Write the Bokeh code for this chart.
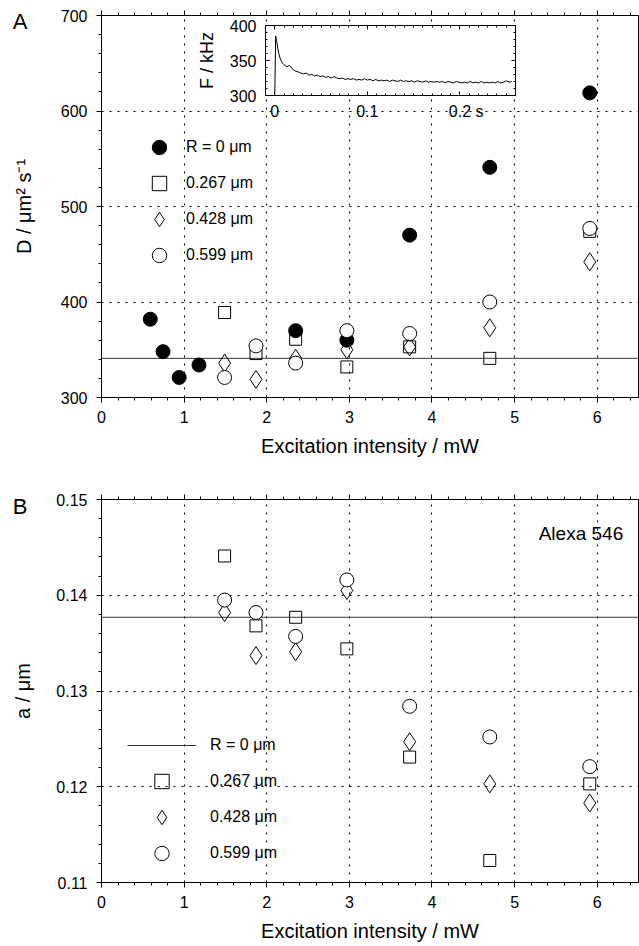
import numpy as np
from bokeh.plotting import figure
from bokeh.models import (Range1d, LinearAxis, SingleIntervalTicker, FixedTicker, Span, Label,
                          Legend, LegendItem, Grid, PrintfTickFormatter)
from bokeh.layouts import column
from bokeh.embed import file_html
from bokeh.resources import INLINE

# ---------------- data ----------------
power_R0 = [0.59, 0.745, 0.94, 1.18, 2.35, 2.97, 3.73, 4.70, 5.91]
D_R0 = [382, 348, 321, 334, 370, 360, 470, 541, 619]
power = [1.49, 1.87, 2.35, 2.97, 3.73, 4.70, 5.91]
D_R267 = [389, 346, 361, 332, 353, 341, 474]
D_R428 = [336, 319, 341, 350, 353, 373, 442]
D_R599 = [321, 354, 336, 370, 367, 400, 477]
D_mean = 341

a_R267 = [0.1441, 0.1368, 0.1377, 0.1344, 0.1231, 0.1123, 0.1203]
a_R428 = [0.1382, 0.1337, 0.1341, 0.1405, 0.1247, 0.1203, 0.1183]
a_R599 = [0.1395, 0.1382, 0.1357, 0.1416, 0.1284, 0.1252, 0.1221]
a_R0 = 0.1377

# inset: fluorescence count rate trace
t_trace = [0.000, 0.001, 0.002, 0.004, 0.006, 0.008,
           0.010, 0.013, 0.016, 0.019, 0.022, 0.025, 0.028, 0.031, 0.034, 0.037,
           0.040, 0.043, 0.046, 0.049, 0.052, 0.055, 0.058, 0.061, 0.064, 0.067,
           0.070, 0.073, 0.076, 0.079, 0.082, 0.085, 0.088, 0.091, 0.094, 0.097,
           0.100, 0.103, 0.106, 0.109, 0.112, 0.115, 0.118, 0.121, 0.124, 0.127,
           0.130, 0.133, 0.136, 0.139, 0.142, 0.145, 0.148, 0.151, 0.154, 0.157,
           0.160, 0.163, 0.166, 0.169, 0.172, 0.175, 0.178, 0.181, 0.184, 0.187,
           0.190, 0.193, 0.196, 0.199, 0.202, 0.205, 0.208, 0.211, 0.214, 0.217,
           0.220, 0.223, 0.226, 0.229, 0.232, 0.235, 0.238, 0.241, 0.244, 0.247,
           0.250, 0.253, 0.256]
F_trace = [300, 385, 378, 362, 352, 347,
           344, 341, 343, 338, 335, 334, 332, 331, 332, 329,
           330, 328, 329, 327, 328, 326, 327, 325, 327, 325,
           324, 325, 323, 324, 323, 324, 322, 323, 322, 324,
           322, 323, 321, 323, 321, 322, 321, 322, 320, 322,
           321, 320, 322, 320, 321, 320, 321, 319, 321, 320,
           319, 321, 319, 320, 319, 320, 319, 320, 318, 320,
           319, 318, 320, 319, 318, 319, 318, 320, 318, 319,
           318, 320, 318, 319, 318, 319, 318, 320, 318, 319,
           321, 319, 320]

series_labels = ["R = 0 \u03bcm", "0.267 \u03bcm", "0.428 \u03bcm", "0.599 \u03bcm"]
x_title = "Excitation intensity / mW"
yA_title = "D / \u03bcm\u00b2 s\u207b\u00b9"
yB_title = "a / \u03bcm"
inset_y_title = "F / kHz"

x_lim = (0, 6.5)
D_lim = (300, 700)
a_lim = (0.11, 0.15)
t_lim = (-0.01, 0.26)
F_lim = (300, 400)

# ---------------- layout ----------------
W = 639
HA = 473
HB = 473
LEFT, RIGHT = 101, 1
A_TOP, A_BOT = 15, 76
B_TOP, B_BOT = 26, 64
FONT = "Liberation Sans"
TICK_FS = "16px"
TITLE_FS = "20px"
fw = W - LEFT - RIGHT


def style_axis(ax, tin):
    ax.axis_line_color = "black"
    ax.major_tick_line_color = "black"
    ax.minor_tick_line_color = "black"
    ax.major_tick_out = 5
    ax.major_tick_in = tin
    ax.minor_tick_out = 3
    ax.minor_tick_in = tin
    ax.major_label_text_font = FONT
    ax.major_label_text_font_size = TICK_FS
    ax.major_label_text_color = "black"
    ax.axis_label_text_font = FONT
    ax.axis_label_text_font_size = TITLE_FS
    ax.axis_label_text_font_style = "normal"
    ax.axis_label_text_color = "black"


def panel_letter(p, letter, ylim, fh, center_px):
    """Panel letter: the single label of a line-less, tick-less outer left axis."""
    ky = fh / (ylim[1] - ylim[0])
    yv = ylim[1] - center_px / ky
    ax = LinearAxis(ticker=FixedTicker(ticks=[yv], minor_ticks=[]),
                    major_label_overrides={yv: letter})
    ax.axis_line_color = None
    ax.major_tick_line_color = None
    ax.minor_tick_line_color = None
    ax.major_tick_out = 0
    ax.major_tick_in = 0
    ax.minor_tick_out = 0
    ax.minor_tick_in = 0
    ax.major_label_standoff = -18
    ax.major_label_text_font = FONT
    ax.major_label_text_font_size = "22px"
    ax.major_label_text_color = "black"
    p.add_layout(ax, "left")


def make_fig(height, top, bot, ylim, ylabel, yint, fmt, ylab_standoff, tin):
    p = figure(width=W, height=height, x_range=Range1d(*x_lim), y_range=Range1d(*ylim),
               x_axis_type=None, y_axis_type=None, output_backend="svg",
               toolbar_location=None, min_border_left=LEFT, min_border_right=RIGHT,
               min_border_top=top, min_border_bottom=bot)
    p.outline_line_color = None
    xt = SingleIntervalTicker(interval=1, num_minor_ticks=5)
    yt = SingleIntervalTicker(interval=yint, num_minor_ticks=5)
    xb = LinearAxis(ticker=xt, axis_label=x_title)
    style_axis(xb, tin)
    xb.major_label_standoff = 8
    xb.axis_label_standoff = 9
    xa = LinearAxis(ticker=SingleIntervalTicker(interval=1, num_minor_ticks=5))
    style_axis(xa, tin)
    xa.major_label_text_color = None
    yl = LinearAxis(ticker=yt, axis_label=ylabel)
    if fmt is not None:
        yl.formatter = fmt
    style_axis(yl, tin)
    yl.major_label_standoff = 9
    yl.axis_label_standoff = ylab_standoff
    yr = LinearAxis(ticker=SingleIntervalTicker(interval=yint))   # right frame edge
    yr.axis_line_color = "black"
    yr.major_tick_line_color = None
    yr.minor_tick_line_color = None
    yr.major_tick_out = 0
    yr.major_tick_in = 0
    yr.minor_tick_out = 0
    yr.minor_tick_in = 0
    yr.major_label_text_color = None
    yr.major_label_standoff = 0
    p.add_layout(xb, "below")
    p.add_layout(xa, "above")
    p.add_layout(yl, "left")
    p.add_layout(yr, "right")
    p.add_layout(Grid(dimension=0, ticker=SingleIntervalTicker(interval=1),
                      grid_line_color="black", grid_line_dash="2 6"))
    p.add_layout(Grid(dimension=1, ticker=SingleIntervalTicker(interval=yint),
                      grid_line_color="black", grid_line_dash="2 6"))
    return p


# ---------------- panel A ----------------
pA = make_fig(HA, A_TOP, A_BOT, D_lim, yA_title, 100, None, 23, 0)
fhA = HA - A_TOP - A_BOT

pA.add_layout(Span(location=D_mean, dimension="width", line_color="#333333",
                   line_width=1, level="underlay"))

rA_sq = pA.scatter(power, D_R267, marker="square", size=12, fill_color=None,
                   line_color="black", line_width=1)
rA_di = pA.scatter(power, D_R428, marker="diamond", size=18, fill_color=None,
                   line_color="black", line_width=1)
rA_f = pA.scatter(power_R0, D_R0, marker="circle", size=14, fill_color="black",
                  line_color="black", line_width=1)
rA_oc = pA.scatter(power, D_R599, marker="circle", size=14, fill_color="white",
                   line_color="black", line_width=1)

legA = Legend(items=[LegendItem(label=series_labels[0], renderers=[rA_f]),
                     LegendItem(label=series_labels[1], renderers=[rA_sq]),
                     LegendItem(label=series_labels[2], renderers=[rA_di]),
                     LegendItem(label=series_labels[3], renderers=[rA_oc])],
              location=(40, 124), glyph_width=36, glyph_height=36, spacing=-2,
              label_standoff=9, padding=0, margin=0, border_line_color=None,
              background_fill_alpha=0, label_text_font=FONT, label_text_font_size="16px",
              label_text_color="black", label_height=20)
pA.add_layout(legA)

# inset (own ranges mapped onto a sub-box of the frame)
ins_l, ins_r, ins_t, ins_b = 164, 414, 10, 80   # px inside the frame
kx = (ins_r - ins_l) / (t_lim[1] - t_lim[0])
ky = (ins_b - ins_t) / (F_lim[1] - F_lim[0])
pA.extra_x_ranges = {"ix": Range1d(t_lim[0] - ins_l / kx, t_lim[1] + (fw - ins_r) / kx)}
pA.extra_y_ranges = {"iy": Range1d(F_lim[0] - (fhA - ins_b) / ky, F_lim[1] + ins_t / ky)}

pA.quad(left=t_lim[0], right=t_lim[1], bottom=F_lim[0], top=F_lim[1],
        x_range_name="ix", y_range_name="iy", fill_color="white",
        line_color="black", line_width=1)
pA.line(t_trace, F_trace, x_range_name="ix", y_range_name="iy",
        line_color="black", line_width=1)


def inset_axis(side, loc, bounds, ticker, label=None, show_labels=False):
    ax = LinearAxis(x_range_name="ix", y_range_name="iy", fixed_location=loc,
                    bounds=bounds, ticker=ticker)
    style_axis(ax, 0)
    ax.major_tick_out = 0
    ax.minor_tick_out = 0
    ax.major_tick_in = 4
    ax.minor_tick_in = 2
    if show_labels:
        ax.major_label_standoff = 9
    else:
        ax.major_label_text_color = None
    if label is not None:
        ax.axis_label = label
        ax.axis_label_text_font_size = "18px"
        ax.axis_label_standoff = 10
    pA.add_layout(ax, side)
    return ax


inset_axis("left", t_lim[0], F_lim, SingleIntervalTicker(interval=50, num_minor_ticks=5),
           label=inset_y_title, show_labels=True)
inset_axis("right", t_lim[1], F_lim, SingleIntervalTicker(interval=50, num_minor_ticks=5))
inset_axis("below", F_lim[0], t_lim, SingleIntervalTicker(interval=0.1, num_minor_ticks=10),
           show_labels=True)
inset_axis("above", F_lim[1], t_lim, SingleIntervalTicker(interval=0.1, num_minor_ticks=10))

pA.add_layout(Label(x=0.2, y=F_lim[0], x_range_name="ix", y_range_name="iy", text="s",
                    x_offset=15.5, y_offset=-16, text_align="left",
                    text_baseline="alphabetic", text_font=FONT, text_font_size=TICK_FS,
                    text_color="black"))

panel_letter(pA, "A", D_lim, fhA, 21 - A_TOP)

# ---------------- panel B ----------------
pB = make_fig(HB, B_TOP, B_BOT, a_lim, yB_title, 0.01, PrintfTickFormatter(format="%.2f"), 19, 0)
fhB = HB - B_TOP - B_BOT

rB_line = pB.line([x_lim[0], x_lim[1]], [a_R0, a_R0], line_color="#333333", line_width=1)
rB_sq = pB.scatter(power, a_R267, marker="square", size=12, fill_color=None,
                   line_color="black", line_width=1)
rB_di = pB.scatter(power, a_R428, marker="diamond", size=18, fill_color=None,
                   line_color="black", line_width=1)
rB_oc = pB.scatter(power, a_R599, marker="circle", size=14, fill_color="white",
                   line_color="black", line_width=1)

legB = Legend(items=[LegendItem(label=series_labels[0], renderers=[rB_line]),
                     LegendItem(label=series_labels[1], renderers=[rB_sq]),
                     LegendItem(label=series_labels[2], renderers=[rB_di]),
                     LegendItem(label=series_labels[3], renderers=[rB_oc])],
              location=(26, 11), glyph_width=69, glyph_height=36, spacing=-3,
              label_standoff=14, padding=0, margin=0, border_line_color=None,
              background_fill_alpha=0, label_text_font=FONT, label_text_font_size="16px",
              label_text_color="black", label_height=20)
pB.add_layout(legB)

pB.add_layout(Label(x=521.7, y=349, x_units="screen", y_units="screen", text="Alexa 546",
                    text_align="right", text_baseline="alphabetic", text_font=FONT,
                    text_font_size="19px", text_color="black"))
panel_letter(pB, "B", a_lim, fhB, 506 - HA - B_TOP)

layout = column(pA, pB, spacing=0)
open("out.html", "w").write(file_html(layout, INLINE))
